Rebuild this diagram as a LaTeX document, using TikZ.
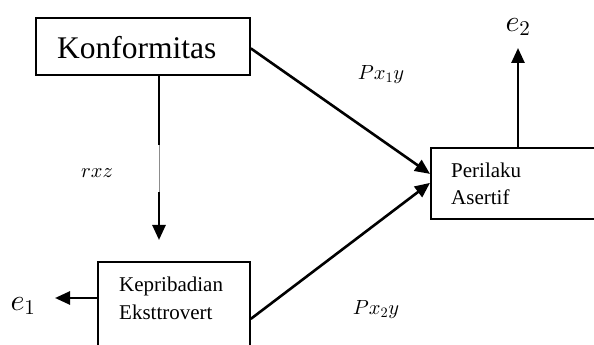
\documentclass[tikz,border=0pt]{standalone}
\usepackage{fontspec}
\setmainfont{Liberation Serif}
\DeclareFontShape{OML}{cmm}{m}{it}{<->cmmi10}{}
\DeclareFontShape{OMS}{cmsy}{m}{n}{<->cmsy10}{}
\DeclareFontShape{OT1}{cmr}{m}{n}{<->cmr10}{}
\usetikzlibrary{arrows.meta}
\begin{document}
\begin{tikzpicture}[x=1pt,y=1pt,
  box/.style={draw, line width=1.8pt, inner sep=0pt},
  conn/.style={line width=2.6pt, -{Triangle[length=15pt,width=13pt]}},
  plain/.style={line width=2.6pt},
  thinseg/.style={line width=0.7pt, draw=black!45},
  txt/.style={anchor=base west, inner sep=0pt, font=\fontsize{21}{26}\selectfont},
  lab/.style={inner sep=0pt, font=\fontsize{20.5}{24}\selectfont},
  elab/.style={inner sep=0pt, font=\fontsize{30}{34}\selectfont}
]
\clip (0,0) rectangle (594,345);
% boxes
\node[box, minimum width=214pt, minimum height=57pt, anchor=north west] (konf) at (35,328) {};
\node[anchor=base west, inner sep=0pt, font=\fontsize{31.5}{38}\selectfont] (konft) at (57,286) {Konformitas};
\node[box, minimum width=152pt, minimum height=100pt, anchor=north west] (kep) at (97,84) {};
\node[txt] (kept1) at (119,53) {Kepribadian};
\node[txt] (kept2) at (119,25) {Eksttrovert};
\node[box, minimum width=200pt, minimum height=71pt, anchor=north west] (per) at (430,198) {};
\node[txt] (pert1) at (451,167) {Perilaku};
\node[txt] (pert2) at (451,140) {Asertif};
% labels
\node[lab] (rxz) at (97,172) {$rxz$};
\node[lab] (p1) at (381,271) {$Px_1y$};
\node[lab] (p2) at (376,36) {$Px_2y$};
\node[elab] (e2) at (518,318) {$e_2$};
\node[elab] (e1) at (23,39) {$e_1$};
% coordinates
\coordinate (v1) at (159,200);
\coordinate (v2) at (159,153);
\coordinate (v3) at (159,105);
\coordinate (e2tip) at (518,297);
\coordinate (e1tip) at (55,47);
% connectors
\draw[plain] (konf.south -| v1) -- (v1);
\draw[thinseg] (v1) -- (v2);
\draw[conn] (v2) -- (v3);
\draw[conn] ([yshift=-2pt]konf.east) -- ([yshift=9.5pt]per.west);
\draw[conn] ([yshift=-7pt]kep.east) -- ([yshift=0.5pt]per.west);
\draw[conn] (per.north -| e2tip) -- (e2tip);
\draw[conn] (kep.west |- e1tip) -- (e1tip);
\end{tikzpicture}
\end{document}
